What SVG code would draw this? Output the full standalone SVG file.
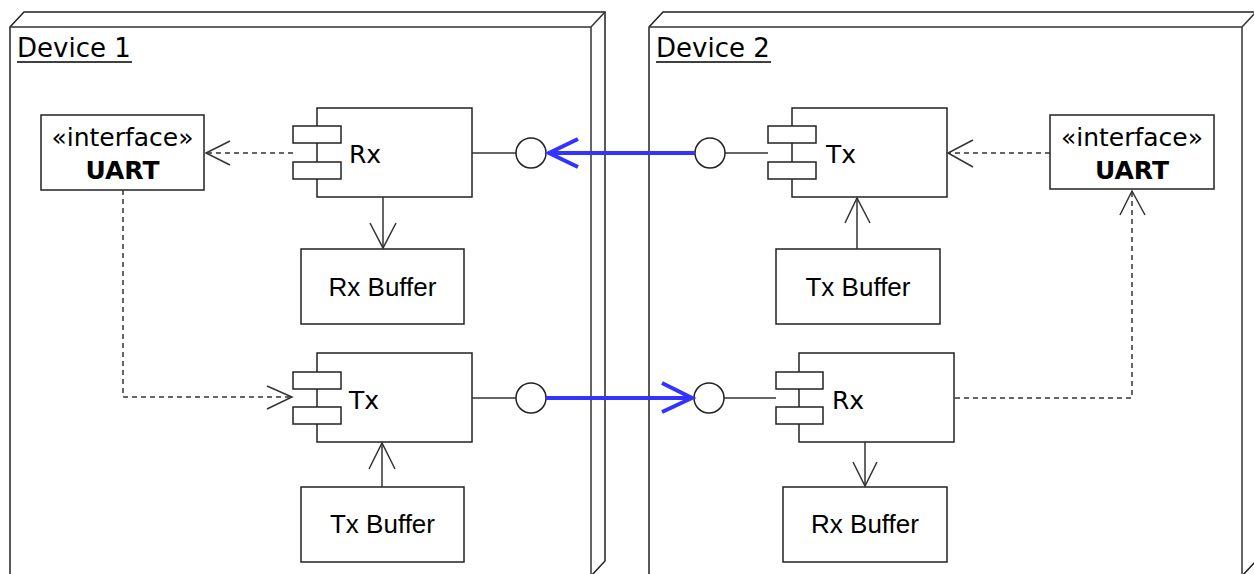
<svg xmlns="http://www.w3.org/2000/svg" width="1254" height="574" viewBox="0 0 1254 574">
<style>
.nd{fill:#fff;stroke:#222;stroke-width:1.5}
.bx{fill:#fff;stroke:#222;stroke-width:1.5}
.ln{fill:none;stroke:#333;stroke-width:1.5}
.ds{fill:none;stroke:#333;stroke-width:1.5;stroke-dasharray:5,4}
.bl{fill:none;stroke:#3333ff;stroke-width:4}
.lbl{font-family:"DejaVu Sans",Verdana,sans-serif;font-size:26px;fill:#000}
.cmp{font-family:"DejaVu Sans",Verdana,sans-serif;font-size:25px;fill:#000}
.bold{font-weight:bold}
.buf{font-family:"Liberation Sans",Arial,sans-serif;font-size:26px;fill:#000}
</style>
<rect width="1254" height="574" fill="#fff"/>
<g id="device1">
<path class="nd" d="M10,27 L24,12 L605,12 L605,561 L591,576 L10,576 Z"/>
<path class="ln" d="M10,27 L591,27 L591,576 M591,27 L605,12"/>
<text class="lbl" x="17" y="57">Device 1</text>
<line x1="17" y1="62" x2="132" y2="62" stroke="#000" stroke-width="1.5"/>
</g>
<g id="device2">
<path class="nd" d="M649,27 L663,12 L1256,12 L1256,561 L1242,576 L649,576 Z"/>
<path class="ln" d="M649,27 L1242,27 L1242,576 M1242,27 L1256,12"/>
<text class="lbl" x="656" y="57">Device 2</text>
<line x1="656" y1="62" x2="771" y2="62" stroke="#000" stroke-width="1.5"/>
</g>
<g id="uart1">
<rect class="bx" x="41" y="115" width="163" height="75"/>
<text class="cmp" x="122.5" y="146" text-anchor="middle" font-size="26">«interface»</text>
<text class="cmp bold" x="122.5" y="179" text-anchor="middle" font-size="24">UART</text>
</g>
<g id="rx1">
<rect class="bx" x="317" y="108" width="155" height="89"/>
<rect class="bx" x="293" y="126" width="48" height="17"/>
<rect class="bx" x="293" y="162" width="48" height="17"/>
<text class="cmp" x="349" y="163">Rx</text>
</g>
<g id="rxbuf1">
<rect class="bx" x="301" y="249" width="163" height="75"/>
<text class="buf" x="382.5" y="296" text-anchor="middle">Rx Buffer</text>
</g>
<g id="tx1">
<rect class="bx" x="317" y="353" width="155" height="89"/>
<rect class="bx" x="293" y="372" width="48" height="17"/>
<rect class="bx" x="293" y="407" width="48" height="17"/>
<text class="cmp" x="349" y="409">Tx</text>
</g>
<g id="txbuf1">
<rect class="bx" x="301" y="487" width="163" height="75"/>
<text class="buf" x="382.5" y="533" text-anchor="middle">Tx Buffer</text>
</g>
<g id="tx2">
<rect class="bx" x="792" y="108" width="155" height="89"/>
<rect class="bx" x="768" y="126" width="48" height="17"/>
<rect class="bx" x="768" y="162" width="48" height="17"/>
<text class="cmp" x="826" y="163">Tx</text>
</g>
<g id="uart2">
<rect class="bx" x="1050" y="115" width="164" height="74"/>
<text class="cmp" x="1132" y="146" text-anchor="middle" font-size="26">«interface»</text>
<text class="cmp bold" x="1132" y="179" text-anchor="middle" font-size="24">UART</text>
</g>
<g id="txbuf2">
<rect class="bx" x="776" y="249" width="164" height="75"/>
<text class="buf" x="858" y="296" text-anchor="middle">Tx Buffer</text>
</g>
<g id="rx2">
<rect class="bx" x="799" y="353" width="155" height="89"/>
<rect class="bx" x="776" y="372" width="47" height="17"/>
<rect class="bx" x="776" y="407" width="47" height="17"/>
<text class="cmp" x="832" y="409">Rx</text>
</g>
<g id="rxbuf2">
<rect class="bx" x="783" y="487" width="164" height="75"/>
<text class="buf" x="865" y="533" text-anchor="middle">Rx Buffer</text>
</g>
<g id="connectors">
<line class="ds" x1="293" y1="153" x2="206" y2="153"/>
<path class="ln" d="M230,141 L206,153 L230,165"/>
<path class="ds" d="M123,190 L123,397 L292,397"/>
<path class="ln" d="M267,386 L292,397 L267,409"/>
<line class="ln" x1="383" y1="197" x2="383" y2="248"/>
<path class="ln" d="M370,223 L383,248 L396,223"/>
<line class="ln" x1="382" y1="443" x2="382" y2="487"/>
<path class="ln" d="M369,469 L382,443 L395,469"/>
<line class="ln" x1="472" y1="153" x2="516" y2="153"/>
<circle class="bx" cx="531" cy="153" r="15"/>
<line class="ln" x1="725" y1="153" x2="768" y2="153"/>
<circle class="bx" cx="710" cy="153" r="15"/>
<line class="bl" x1="695" y1="153" x2="549" y2="153"/>
<path class="bl" d="M578,139 L549,153 L578,167"/>
<line class="ln" x1="472" y1="398" x2="516" y2="398"/>
<circle class="bx" cx="531" cy="398" r="15"/>
<line class="ln" x1="724" y1="398" x2="776" y2="398"/>
<circle class="bx" cx="709" cy="398" r="15"/>
<line class="bl" x1="546" y1="398" x2="692" y2="398"/>
<path class="bl" d="M662,383 L692,398 L662,412"/>
<line class="ds" x1="1050" y1="153" x2="948" y2="153"/>
<path class="ln" d="M973,140 L948,153 L973,167"/>
<line class="ln" x1="857" y1="198" x2="857" y2="249"/>
<path class="ln" d="M845,223 L857,198 L870,223"/>
<path class="ds" d="M955,398 L1132,398 L1132,191"/>
<path class="ln" d="M1120,215 L1132,191 L1145,215"/>
<line class="ln" x1="865" y1="442" x2="865" y2="486"/>
<path class="ln" d="M853,462 L865,486 L877,462"/>
</g>
</svg>
